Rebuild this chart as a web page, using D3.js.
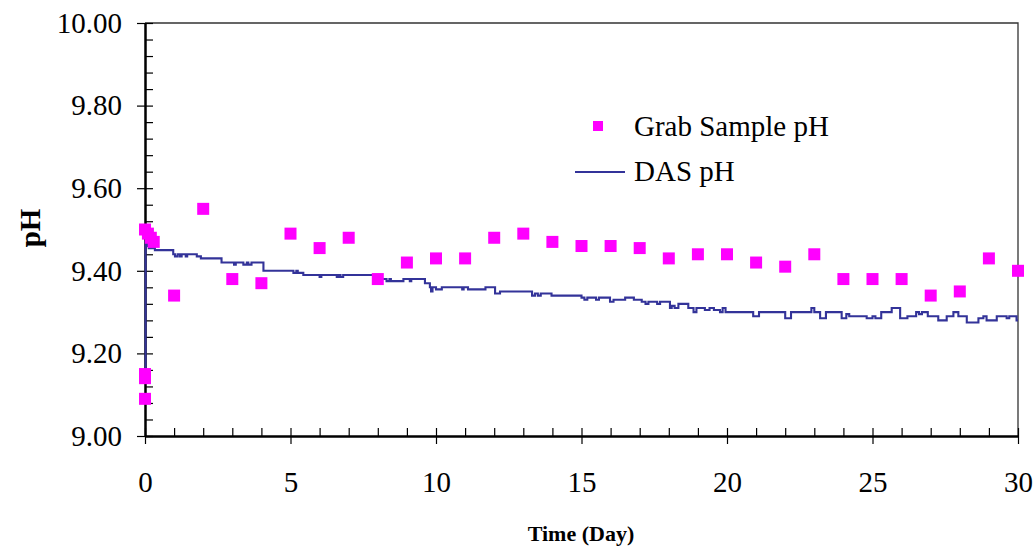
<!DOCTYPE html>
<html>
<head>
<meta charset="utf-8">
<script src="https://cdn.jsdelivr.net/npm/d3@7"></script>
<style>
  body { margin: 0; background: #fff; }
  text { font-family: "Liberation Serif", "Times New Roman", serif; }
</style>
</head>
<body>
<script>
////// data

// grab samples (day, pH)
const grabDay = [0, 0, 0, 0, 0.1, 0.2, 0.3, 1, 2, 3, 4, 5, 6, 7, 8, 9, 10, 11, 12, 13, 14, 15,
                 16, 17, 18, 19, 20, 21, 22, 23, 24, 25, 26, 27, 28, 29, 30];
const grabPH = [9.09, 9.14, 9.15, 9.50, 9.49, 9.48, 9.47, 9.34, 9.55, 9.38, 9.37, 9.49, 9.455, 9.48,
                9.38, 9.42, 9.43, 9.43, 9.48, 9.49, 9.47, 9.46, 9.46, 9.455, 9.43, 9.44, 9.44,
                9.42, 9.41, 9.44, 9.38, 9.38, 9.38, 9.34, 9.35, 9.43, 9.40];

// DAS logger, step breakpoints (day, pH)
const dasDay = [0, 0.02, 0.06, 0.09, 0.13, 0.34, 0.97, 1.03, 1.12, 1.2, 1.26, 1.4, 1.45, 1.78, 1.92,
  2.63, 3.06, 3.12, 3.38, 3.5, 3.55, 3.66, 4.07, 5.1, 5.2, 5.25, 5.44, 6.0, 6.06, 6.59, 6.66, 6.72,
  6.81, 7.85, 8.3, 8.4, 8.45, 8.88, 9.1, 9.15, 9.62, 9.79, 9.83, 9.88, 10.0, 10.2, 10.9, 10.95,
  11.1, 11.7, 12.03, 12.2, 13.3, 13.4, 13.5, 13.6, 13.97, 15.0, 15.1, 15.2, 15.5, 15.6, 15.98,
  16.1, 16.5, 16.8, 17.07, 17.2, 17.3, 17.6, 17.7, 18.04, 18.1, 18.2, 18.33, 18.67, 18.85, 18.95,
  19.24, 19.4, 19.55, 19.76, 19.85, 19.95, 20.9, 21.1, 22.0, 22.2, 22.9, 23.0, 23.2, 23.4, 23.94,
  24.1, 24.2, 24.8, 25.0, 25.1, 25.3, 25.66, 25.95, 26.2, 26.5, 26.6, 26.7, 26.9, 27.26, 27.55,
  27.78, 27.95, 28.24, 28.64, 28.81, 28.92, 29.27, 29.61, 29.7, 29.95, 30];
const dasPH = [9.15, 9.47, 9.46, 9.47, 9.455, 9.45, 9.44, 9.435, 9.44, 9.435, 9.44, 9.435, 9.44,
  9.435, 9.43, 9.42, 9.415, 9.42, 9.415, 9.42, 9.415, 9.42, 9.40, 9.395, 9.40, 9.395, 9.39, 9.385,
  9.39, 9.385, 9.39, 9.385, 9.39, 9.38, 9.375, 9.38, 9.375, 9.38, 9.375, 9.38, 9.37, 9.36, 9.35,
  9.36, 9.355, 9.36, 9.355, 9.36, 9.355, 9.36, 9.345, 9.35, 9.34, 9.345, 9.34, 9.345, 9.34, 9.335,
  9.33, 9.335, 9.33, 9.335, 9.325, 9.33, 9.335, 9.33, 9.325, 9.32, 9.325, 9.32, 9.325, 9.31,
  9.315, 9.31, 9.32, 9.31, 9.30, 9.31, 9.305, 9.31, 9.305, 9.30, 9.31, 9.30, 9.29, 9.30, 9.285,
  9.30, 9.31, 9.30, 9.285, 9.30, 9.285, 9.295, 9.29, 9.285, 9.29, 9.285, 9.30, 9.31, 9.285, 9.29,
  9.30, 9.295, 9.30, 9.29, 9.28, 9.29, 9.30, 9.29, 9.275, 9.285, 9.29, 9.28, 9.29, 9.285, 9.29,
  9.28, 9.28];

const xTicks = [0, 5, 10, 15, 20, 25, 30];
const yTicks = [9.0, 9.2, 9.4, 9.6, 9.8, 10.0];
const seriesNames = ["Grab Sample pH", "DAS pH"];

//////

const W = 1035, H = 547;
const plotL = 145, plotR = 1018, plotT = 23, plotB = 436;

const x = d3.scaleLinear().domain([0, 30]).range([plotL, plotR]);
const y = d3.scaleLinear().domain([9, 10]).range([plotB, plotT]);

const svg = d3.select("body").append("svg")
    .attr("width", W)
    .attr("height", H);

// frame top + right
svg.append("path")
    .attr("d", `M${plotL},${plotT}H${plotR}V${plotB}`)
    .attr("fill", "none")
    .attr("stroke", "#333")
    .attr("stroke-width", 1.3);

// y axis: outward major ticks with labels
svg.append("g")
    .attr("transform", `translate(${plotL},0)`)
    .call(d3.axisLeft(y).tickValues(yTicks).tickSize(8).tickSizeOuter(0).tickPadding(15)
        .tickFormat(d3.format(".2f")));
// inward major + minor ticks
const yMinor = d3.range(9, 10.001, 0.04).map(v => +v.toFixed(2));
svg.append("g")
    .attr("transform", `translate(${plotL},0)`)
    .call(d3.axisRight(y).tickValues(yMinor).tickSize(8).tickSizeOuter(0).tickFormat(""));

// x axis
svg.append("g")
    .attr("transform", `translate(0,${plotB})`)
    .call(d3.axisBottom(x).tickValues(xTicks).tickSize(8).tickSizeOuter(0).tickPadding(27));
svg.append("g")
    .attr("transform", `translate(0,${plotB})`)
    .call(d3.axisTop(x).tickValues(d3.range(0, 31)).tickSize(8).tickSizeOuter(0).tickFormat(""));

svg.selectAll(".domain").attr("stroke", "#000").attr("stroke-width", 2);
svg.selectAll(".tick line").attr("stroke", "#000").attr("stroke-width", 1.2);
svg.selectAll(".tick text")
    .attr("font-family", "Liberation Serif, Times New Roman, serif")
    .attr("font-size", 29)
    .attr("fill", "#000");

// axis titles
svg.append("text")
    .attr("x", 581)
    .attr("y", 541)
    .attr("text-anchor", "middle")
    .attr("font-weight", "bold")
    .attr("font-size", 22)
    .text("Time (Day)");

svg.append("text")
    .attr("transform", "translate(40,228) rotate(-90)")
    .attr("text-anchor", "middle")
    .attr("font-weight", "bold")
    .attr("font-size", 29)
    .text("pH");

// DAS line
const das = dasDay.map((d, i) => ({day: d, ph: dasPH[i]}));
const line = d3.line()
    .x(d => x(d.day))
    .y(d => y(d.ph))
    .curve(d3.curveStepAfter);

svg.append("path")
    .attr("d", line(das))
    .attr("fill", "none")
    .attr("stroke", "#333399")
    .attr("stroke-width", 2.1);

// grab samples
const grab = grabDay.map((d, i) => ({day: d, ph: grabPH[i]}));
const s = 12;
svg.append("g").selectAll("rect")
    .data(grab)
    .join("rect")
    .attr("x", d => x(d.day) - s / 2)
    .attr("y", d => y(d.ph) - s / 2)
    .attr("width", s)
    .attr("height", s)
    .attr("fill", "#ff00ff");

// legend
const lg = svg.append("g");
lg.append("rect")
    .attr("x", 593).attr("y", 121).attr("width", 10).attr("height", 10)
    .attr("fill", "#ff00ff");
lg.append("text")
    .attr("x", 634).attr("y", 136)
    .attr("font-size", 29)
    .text(seriesNames[0]);
lg.append("line")
    .attr("x1", 575).attr("x2", 625).attr("y1", 172).attr("y2", 172)
    .attr("stroke", "#333399").attr("stroke-width", 1.8);
lg.append("text")
    .attr("x", 634).attr("y", 181)
    .attr("font-size", 29)
    .text(seriesNames[1]);
</script>
</body>
</html>
